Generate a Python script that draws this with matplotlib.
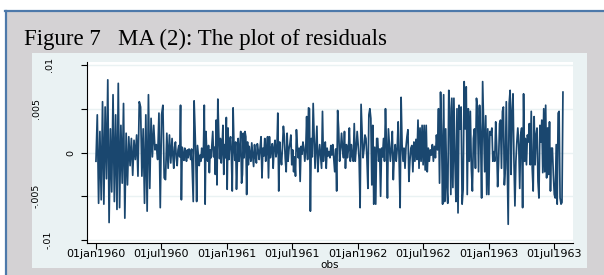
import pandas as pd
import numpy as np
import matplotlib.pyplot as plt
from matplotlib.patches import Rectangle

# residuals (x 1e-3)
seg1 = [-1.0, 4.3, -5.8, 2.4, -5.4, 5.8, -5.9, 5.2, -3.0, 8.3, -8.0, 2.7, -4.5, 6.6, -5.6, 4.3,
        -6.5, 7.9, -6.3, 3.1, -3.5, 5.6, -7.5, 2.2, -3.7, 1.8, -1.5, 1.6, -2.6, 1.4, -0.8, 2.0,
        -2.7, 5.8, 5.2, -2.7, 2.7, -5.8, 4.3, -6.7, 6.6, -4.1, 3.9, -0.5, 3.1, 0.3, 0.9, -0.8,
        4.5, -6.3, 4.3, 5.4, -2.9, -3.1, 2.2, -1.8, 2.0, -1.2]
seg2 = [1.6, -0.4, -1.8, 0.6, 1.2, -0.7, -1.5, 0.3, 0.8, -0.5, 5.4, -5.4, 0.6, -0.3, -0.9, 0.5,
        -0.2, -1.0, 0.3, -0.6, 0.4, 0.1, -0.8, 0.4, -2.5, -5.6, 5.9, 2.9, -0.5, -5.6, 0.8, -0.4,
        -1.5, -0.3, -1.0, 0.5, -0.6, 0.2, 5.4, -5.9, 2.4, -0.3, -1.0, 0.8, -2.3, 0.3, -0.6, 1.0,
        2.4, -0.5, 0.6, -2.5, 3.7, -3.7, 6.1, 2.4, -0.7, 1.6, -1.2, 0.5, 3.1, -2.5, 0.9, -0.6,
        4.0, -4.2, 2.8, -0.8, 1.2, 1.8, -0.5, -4.4, 5.1, 0.9, -0.9, 1.2, -4.2, -1.0, 1.6, -1.0,
        0.4, 2.4, -3.5, -2.5, 2.2, -0.6, 2.4, 1.8, -4.8, 1.2, -1.4, 0.7, -0.3, -1.0]
seg3 = [1.1, -0.3, -1.6, 0.9, -0.5, -1.2, 1.0, 0.2, -0.8, 0.6, 1.8, -2.9, 0.5, -0.4, 1.6, -1.0,
        0.3, 1.8, -2.9, 1.8, -0.6, 0.4, 1.0, -1.8, 0.6, 1.4, -0.5, 0.2, 4.5, -4.4, 1.2, -0.4,
        -1.4, 0.6, 3.0, 1.8, -0.7, -2.2, 2.2, -1.0, 0.4, 1.0, 2.0, -1.4, 0.3, -2.2, -0.5, -2.7,
        2.6, 0.7, -0.6, 0.5, -3.3, 0.7, -0.2, 1.2, 0.5, -1.0, 0.3, 4.1, -0.8, 5.1, 5.0, -6.7,
        1.6, -0.5, 5.6, 1.8, -1.8, 0.5, 3.0, -2.2, -0.3, 0.9, -0.4, -1.8, 4.7, -1.0, 0.6, 1.2,
        -1.8, 0.5, -0.4, 0.1, -0.6, 0.8]
seg4 = [-0.3, 0.9, -0.6, -2.2, 0.4, -4.4, 4.8, 2.7, -1.0, 0.3, 2.2, 0.5, -0.6, 2.4, -1.8, 0.9,
        -0.6, 0.3, 2.8, -1.0, 0.9, -0.4, -1.0, 3.3, -1.0, 0.5, 2.4, 0.9, -0.8, -6.3, 5.5, 2.6,
        -0.6, 0.4, 2.0, 1.6, -0.7, -4.1, 4.3, 5.0, 3.9, -3.7, 3.1, -5.9, 0.6, -5.9, 1.6, 1.6,
        -1.0, 0.4, -5.0, 0.5, -0.5, 1.6, -1.0, 5.0, 0.9, -5.2, 2.7, 0.9, -1.0, 0.5, 2.4, -3.1,
        -0.3, 0.9, -1.0, 0.4, 3.5, -1.0, -6.3, 6.3, 0.9, -1.0, 0.5, -1.8, 0.6, 1.8, 2.6, -3.3,
        -1.0, 0.5]
seg5 = [0.8, -2.2, 1.2, -1.0, 1.5, -0.8, 3.7, -1.8, 2.8, -1.0, 3.1, -1.4, 3.1, -2.0, 3.1, -2.2,
        0.5, -1.0, 0.3, -0.3, 0.9, -1.0, 0.7, -0.6, 2.0, 0.3, 5.0, -3.5, 6.9, 1.6, -5.9, 6.6,
        -5.6, 2.7, -3.7, -5.8, 7.1, 5.0, -4.8, 6.2, -4.0, 6.2, -1.0, -5.6, 5.0, -6.9, 5.4, 2.7,
        5.2, -5.9, -4.2, 8.1, 2.7, 7.5, -4.8, 5.0, -1.0, 4.7, -1.8, -4.4, 1.6, 2.7, -1.8, 6.2,
        5.0, -2.2, 5.4, 2.0, -5.2, 8.1, 2.7, -2.2, 4.2, -4.8, 2.7, -4.8, 2.4, 2.0]
seg6 = [2.8, -1.0, 0.1, -1.0, 3.5, 0.7, -3.9, -1.0, 3.3, 3.7, -1.8, 4.7, 5.2, -3.7, -1.8, 5.8,
        -1.0, -8.2, 5.6, 7.1, -2.5, 4.7, 6.7, -1.0, -6.1, -1.0, 1.2, 2.8, 0.9, -4.1, 2.0, 2.8,
        -6.3, 6.7, -1.0, 1.6, -1.4, 2.0, 1.2, 3.3, -1.4, 4.7, -1.8, -4.4, 4.1, -1.4, 2.0, 2.8,
        -3.3, -5.2, 3.1, 1.2, 3.7, -2.3, 5.0, -2.2, 5.4, -2.9, 2.8, -2.5, 3.5, -4.4, 0.5, 0.5,
        -2.5, -4.8, -5.2, 0.9, -5.9, 4.5, 4.7, -5.2, -5.9, -5.7, 6.9]
segments = [seg1, seg2, seg3, seg4, seg5, seg6]
seg_bounds = ['1960-01-01', '1960-07-31', '1961-03-10', '1961-10-19',
              '1962-05-30', '1963-01-08', '1963-07-25']

xticks = ['1960-01-01', '1960-07-01', '1961-01-01', '1961-07-01',
          '1962-01-01', '1962-07-01', '1963-01-01', '1963-07-01']
xticklabels = ['01jan1960', '01jul1960', '01jan1961', '01jul1961',
               '01jan1962', '01jul1962', '01jan1963', '01jul1963']
yticks = [0.01, 0.005, 0, -0.005, -0.01]
yticklabels = ['.01', '.005', '0', '-.005', '-.01']

dates, vals = [], []
for i, seg in enumerate(segments):
    last = i == len(segments) - 1
    n = len(seg) if last else len(seg) + 1
    d = pd.date_range(seg_bounds[i], seg_bounds[i + 1], periods=n)
    if not last:
        d = d[:-1]
    dates.extend(d)
    vals.extend(seg)
resid = np.array(vals) * 1e-3

W, H = 604, 275
fig = plt.figure(figsize=(W / 100, H / 100), dpi=100)
fig.patch.set_facecolor('#d4d2d4')

# background drawn in its own axes so it stays behind the plot
bg = fig.add_axes([0, 0, 1, 1], zorder=-5)
bg.set_xlim(0, W)
bg.set_ylim(H, 0)
bg.axis('off')
bg.add_patch(Rectangle((0, 0), W, 10, facecolor='white', edgecolor='none'))
bg.add_patch(Rectangle((0, 0), 5, H, facecolor='white', edgecolor='none'))
bg.plot([5, W], [11, 11], color='#4d79aa', lw=1.6)
bg.plot([6, 6], [11, H], color='#4d79aa', lw=1.6)
bg.add_patch(Rectangle((32, 53), 555, 215, facecolor='#eaf2f3', edgecolor='none'))

fig.text(24 / W, 1 - 45 / H, 'Figure 7   MA (2): The plot of residuals',
         family='Liberation Serif', fontsize=16.5, va='baseline', ha='left')

ax = fig.add_axes([87 / W, 1 - 243 / H, 486 / W, 181 / H], zorder=2)
ax.set_facecolor('white')
ax.plot(dates, resid, color='#1a476f', lw=1.25)

ax.set_ylim(-0.01034, 0.01034)
ax.set_xlim(pd.Timestamp('1959-12-07'), pd.Timestamp('1963-08-22'))
ax.set_yticks(yticks)
ax.set_yticklabels([])
ax.yaxis.grid(True, color='#eaf2f3', lw=1.0)
ax.set_axisbelow(True)
ax.set_xticks(pd.to_datetime(xticks))
ax.set_xticklabels(xticklabels, family='DejaVu Sans', fontsize=8)
ax.tick_params(axis='x', length=4, width=0.8, pad=0.5, colors='black')
ax.tick_params(axis='y', length=4, width=0.8, colors='black')
for s in ['top', 'right']:
    ax.spines[s].set_visible(False)
for s in ['left', 'bottom']:
    ax.spines[s].set_linewidth(0.8)
    ax.spines[s].set_color('black')

# rotated y labels, placed where the picture has them
ylab_x = [50, 37, 71, 36, 48]
tr = ax.get_yaxis_transform()
for v, lab, px in zip(yticks, yticklabels, ylab_x):
    ax.text((px - 87) / 486, v, lab, transform=tr, rotation=90, ha='center', va='center',
            family='DejaVu Sans', fontsize=6.8, clip_on=False)

ax.set_xlabel('obs', family='DejaVu Sans', fontsize=7.5, labelpad=0.5)

fig.savefig('out.png', dpi=100, facecolor=fig.get_facecolor())
